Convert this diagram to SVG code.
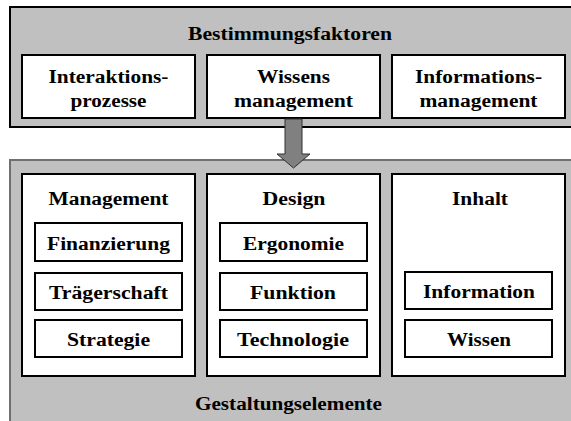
<svg xmlns="http://www.w3.org/2000/svg" width="571" height="421" viewBox="0 0 571 421">
  <style>
    .t { font-family: 'Liberation Serif', 'Times New Roman', serif; font-weight: bold; font-size: 18px; fill: #000; text-anchor: middle; }
    .panel { fill: #c0c0c0; }
    .box { fill: #fff; stroke: #000; stroke-width: 2; }
  </style>
  <rect width="571" height="421" fill="#fff"/>

  <!-- Determining factors -->
  <g id="bestimmungsfaktoren">
    <rect class="panel" x="10" y="7" width="570" height="120" stroke="#000" stroke-width="2"/>
    <text class="t" x="290" y="40" textLength="204" lengthAdjust="spacingAndGlyphs">Bestimmungsfaktoren</text>
  </g>
  <g id="interaktionsprozesse">
    <rect class="box" x="22" y="55" width="173" height="63"/>
    <text class="t" x="108.5" y="83" textLength="120" lengthAdjust="spacingAndGlyphs">Interaktions-</text>
    <text class="t" x="108.5" y="107" textLength="76" lengthAdjust="spacingAndGlyphs">prozesse</text>
  </g>
  <g id="wissensmanagement">
    <rect class="box" x="207" y="55" width="173" height="63"/>
    <text class="t" x="293.5" y="83" textLength="73" lengthAdjust="spacingAndGlyphs">Wissens</text>
    <text class="t" x="293.5" y="107" textLength="119" lengthAdjust="spacingAndGlyphs">management</text>
  </g>
  <g id="informationsmanagement">
    <rect class="box" x="392" y="55" width="173" height="63"/>
    <text class="t" x="478.5" y="83" textLength="127" lengthAdjust="spacingAndGlyphs">Informations-</text>
    <text class="t" x="478.5" y="107" textLength="118" lengthAdjust="spacingAndGlyphs">management</text>
  </g>

  <!-- Design elements -->
  <g id="gestaltungselemente">
    <rect class="panel" x="10" y="160" width="570" height="270" stroke="#707070" stroke-width="2"/>
    <text class="t" x="288.5" y="410" textLength="187" lengthAdjust="spacingAndGlyphs">Gestaltungselemente</text>
  </g>

  <g id="management">
    <rect class="box" x="22" y="174" width="173" height="202"/>
    <text class="t" x="108.5" y="205" textLength="120" lengthAdjust="spacingAndGlyphs">Management</text>
  </g>
  <g id="finanzierung">
    <rect class="box" x="35" y="223" width="147" height="38"/>
    <text class="t" x="108.5" y="250" textLength="123" lengthAdjust="spacingAndGlyphs">Finanzierung</text>
  </g>
  <g id="traegerschaft">
    <rect class="box" x="35" y="273" width="147" height="37"/>
    <text class="t" x="108.5" y="299" textLength="119" lengthAdjust="spacingAndGlyphs">Trägerschaft</text>
  </g>
  <g id="strategie">
    <rect class="box" x="35" y="320" width="147" height="37"/>
    <text class="t" x="108.5" y="346" textLength="83" lengthAdjust="spacingAndGlyphs">Strategie</text>
  </g>

  <g id="design">
    <rect class="box" x="207" y="174" width="173" height="202"/>
    <text class="t" x="294" y="205" textLength="63" lengthAdjust="spacingAndGlyphs">Design</text>
  </g>
  <g id="ergonomie">
    <rect class="box" x="220" y="223" width="147" height="38"/>
    <text class="t" x="293.5" y="250" textLength="101" lengthAdjust="spacingAndGlyphs">Ergonomie</text>
  </g>
  <g id="funktion">
    <rect class="box" x="220" y="273" width="147" height="37"/>
    <text class="t" x="293" y="299" textLength="86" lengthAdjust="spacingAndGlyphs">Funktion</text>
  </g>
  <g id="technologie">
    <rect class="box" x="220" y="320" width="147" height="37"/>
    <text class="t" x="293" y="346" textLength="112" lengthAdjust="spacingAndGlyphs">Technologie</text>
  </g>

  <g id="inhalt">
    <rect class="box" x="392" y="174" width="173" height="202"/>
    <text class="t" x="480" y="205" textLength="56" lengthAdjust="spacingAndGlyphs">Inhalt</text>
  </g>
  <g id="information">
    <rect class="box" x="405" y="272" width="147" height="37"/>
    <text class="t" x="479" y="298" textLength="112" lengthAdjust="spacingAndGlyphs">Information</text>
  </g>
  <g id="wissen">
    <rect class="box" x="405" y="320" width="147" height="37"/>
    <text class="t" x="479" y="346" textLength="64" lengthAdjust="spacingAndGlyphs">Wissen</text>
  </g>

  <!-- Block arrow between the two panels -->
  <g id="connectors">
    <path d="M285,119 H302 V154 H310 L293.5,168 L277,154 H285 Z" fill="#808080" stroke="#303030" stroke-width="1"/>
  </g>
</svg>
